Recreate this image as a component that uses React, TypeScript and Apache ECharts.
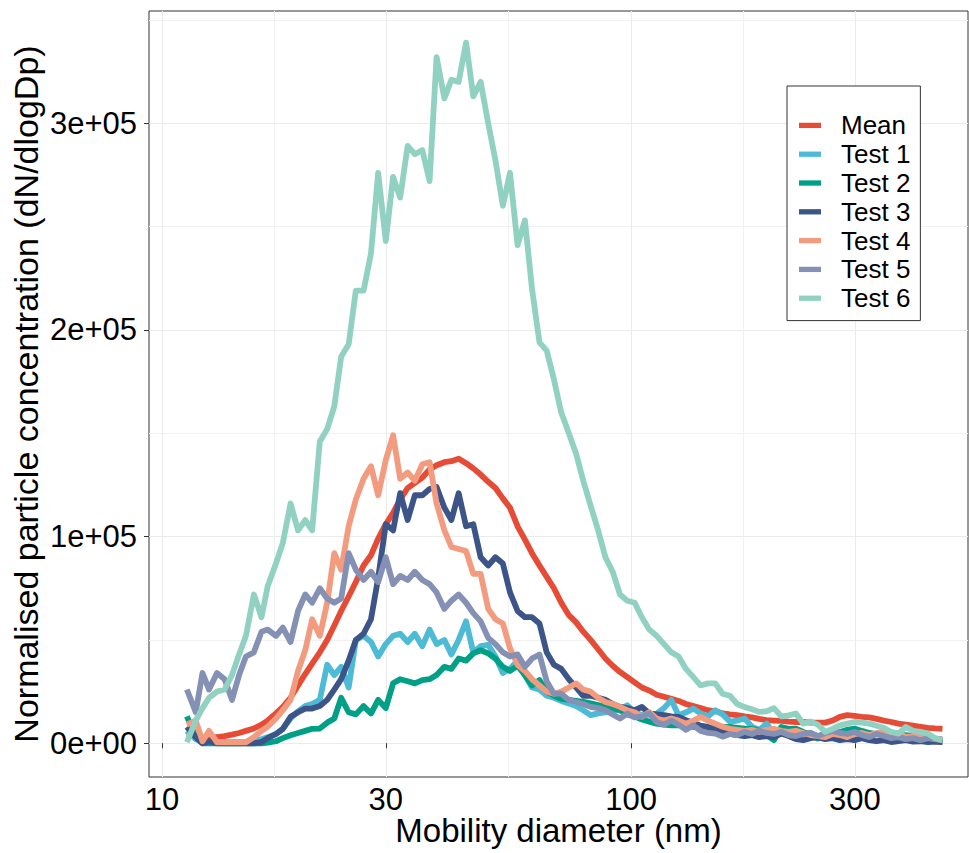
import React, { useEffect, useRef } from "react";
import * as echarts from "echarts";

// Mobility diameter channels (nm)
const diameters = [
  11.3, 11.8, 12.2, 12.6, 13.1, 13.6, 14.1, 14.6, 15.1, 15.7,
  16.3, 16.8, 17.5, 18.1, 18.8, 19.5, 20.2, 20.9, 21.7, 22.5,
  23.3, 24.1, 25.0, 25.9, 26.9, 27.9, 28.9, 30.0, 31.1, 32.2,
  33.4, 34.6, 35.9, 37.2, 38.5, 40.0, 41.4, 42.9, 44.5, 46.1,
  47.8, 49.6, 51.4, 53.3, 55.2, 57.3, 59.4, 61.5, 63.8, 66.1,
  68.5, 71.0, 73.7, 76.4, 79.1, 82.0, 85.1, 88.2, 91.4, 94.7,
  98.2, 101.8, 105.5, 109.4, 113.4, 117.6, 121.9, 126.3, 131.0, 135.8,
  140.7, 145.9, 151.2, 156.8, 162.5, 168.5, 174.7, 181.1, 187.7, 194.6,
  201.7, 209.1, 216.7, 224.7, 232.9, 241.4, 250.3, 259.5, 269.0, 278.8,
  289.0, 299.6, 310.6, 322.0, 333.8, 346.0, 358.7, 371.8, 385.4, 399.5,
  414.2, 429.4, 445.1, 461.4,
];

// Normalised concentration, in thousands of dN/dlogDp
const meanK = [
  4.5, 3.5, 3, 3, 3, 3.5, 4.2, 5, 6, 7.2,
  9, 11, 14.5, 17.6, 22, 28, 33.5, 38.5, 44, 50,
  57, 64, 71, 78, 86, 91, 99, 106, 111.5, 118,
  123.5, 126, 128.5, 132.5, 134.5, 136, 136.5, 137.7, 135.5, 133,
  130, 126.5, 123.5, 118.5, 114, 105, 98.5, 92, 86, 80.5,
  75, 68, 62, 58.5, 54, 50, 45.5, 41, 37.5, 34.5,
  32, 29.5, 27, 25.5, 23.5, 22.5, 21.5, 20.5, 19, 18,
  17, 16, 15.5, 14.5, 14, 13.6, 13, 12.5, 11.8, 11.2,
  11, 10.8, 10.5, 10.3, 10.3, 10, 10, 10, 11, 12.8,
  13.6, 13.3, 12.8, 12.5, 11.8, 11, 10.3, 9.5, 9, 8.5,
  8, 7.5, 7.2, 7,
];

const test1K = [
  6, 2, 0.5, 0.5, 0.5, 0.5, 0.5, 0.5, 0.5, 1,
  2, 3, 4.5, 7, 12, 15.5, 18, 19, 21, 38,
  33, 37, 27, 50, 52, 49, 42, 48, 52, 53,
  49, 53, 47, 55, 48, 50, 43, 50, 59, 44,
  47, 47.6, 42, 34, 36, 40, 33, 27, 26, 23,
  22, 20.5, 19.3, 18, 16, 13.6, 14.5, 15, 15.5, 16.5,
  18.4, 15, 13.6, 14, 14.4, 17, 21, 13.6, 15, 16.8,
  14.5, 13, 16, 14, 10.5, 11, 12, 8, 6.5, 9.5,
  4.7, 6, 5, 4.5, 4.7, 5, 3.5, 4, 5, 4,
  3.5, 4.5, 5, 4, 4.5, 3.5, 3, 3.5, 2.5, 3,
  2, 1.5, 1, 0.6,
];

const test2K = [
  13, 3, 0, 0, 0, 0, 0, 0, 0, 0,
  0, 0.3, 1, 2.5, 3.9, 5, 6, 7, 7.1, 10,
  12, 22, 15, 14, 18, 14.4, 21, 17, 29, 31,
  30, 29, 30.6, 31, 33, 37, 36, 41, 40, 43.5,
  45, 43.5, 41, 37, 35, 37.5, 33, 28, 30.6, 25,
  23, 21.5, 21, 20.5, 20, 19.3, 18.5, 17.6, 17, 16,
  14, 13, 11.5, 10.5, 9.5, 9, 8.7, 8.7, 8.5, 8,
  7.5, 7.1, 7.5, 7.9, 7.9, 7.5, 7.1, 7, 6, 4,
  1.5, 7.9, 7, 7.1, 5.5, 4, 2.3, 3.5, 4.5, 5.5,
  6.5, 7.1, 6, 5, 4.5, 5, 4, 4.5, 3.9, 3.5,
  3, 2.5, 2, 1.5,
];

const test3K = [
  8, 3, 0, 1, 0, 0, 0, 0, 0, 0,
  0.6, 2.5, 4.5, 7, 12.8, 15, 16.8, 16.8, 18, 21,
  26, 31, 40, 50, 53, 60, 80, 106, 103, 121,
  108, 120, 120, 123, 124, 114, 108, 121, 105, 106,
  90, 86, 90, 87, 73, 64, 61, 61, 58, 44,
  38, 36, 31, 27, 23, 23, 22, 21, 19, 17.6,
  17, 16, 17.6, 14.4, 14, 13.6, 13, 12.8, 11.2, 10,
  8.5, 7.9, 6.5, 5.5, 4.5, 4, 3.5, 3.9, 3, 3.5,
  3, 4.7, 3.5, 2, 1.5, 2.5, 3, 2, 2.5, 1.5,
  2, 1.5, 2.5, 1.5, 1, 1.5, 0.6, 1, 1.5, 0.8,
  1, 0.6, 0.8, 0.6,
];

const test4K = [
  9, 11, 1, 6, 0.5, 0.5, 0.5, 0.5, 0.5, 3,
  6, 8, 12, 16, 21, 35, 45, 60, 52, 68,
  92, 84, 105, 118, 128, 134, 120, 137, 149, 128,
  131, 127, 135, 136, 116, 103, 95, 94, 93, 82,
  82, 65, 60, 58, 46, 38, 35, 31, 28, 25,
  24, 25, 27, 29, 26, 25, 22, 20, 19, 17.6,
  16, 15, 12.8, 15, 12, 11, 12, 11, 9.5, 11,
  12.8, 11, 9.5, 8, 7, 6.5, 6, 6.5, 5.5, 6.5,
  7, 6, 5.5, 6, 5, 4, 3.5, 3, 4.5, 4,
  3, 4.5, 5, 4, 5, 5.5, 4.5, 5, 3, 3.5,
  4, 3, 2, 1.5,
];

const test5K = [
  26, 15, 34, 26, 34, 31, 21, 33, 42, 44,
  54, 55, 52, 56, 49, 64, 72, 68, 75, 70,
  68, 70, 92, 84, 79, 83, 78, 90, 77, 81,
  79, 83, 79, 77, 73, 65, 69, 72, 68, 63,
  59, 51, 48, 44, 42, 43, 37, 41, 43, 30,
  24, 24, 21, 20, 19, 17.6, 17, 16, 14, 12,
  14.4, 12.5, 13, 14.4, 10.3, 9, 11, 9, 6.5, 8.7,
  6, 5, 4.7, 3.2, 4.5, 4, 5.5, 4.5, 6, 5,
  4.5, 5.5, 4, 3.5, 4.5, 5, 3.5, 5, 6, 5,
  4.5, 5.5, 4, 3, 4.5, 3.5, 2.5, 3, 2, 2.5,
  1.5, 2.5, 2, 2,
];

const test6K = [
  0.5, 11, 17, 22, 25, 26, 33, 43, 52, 72,
  61, 76, 87, 97, 116, 103, 108, 103, 146, 152,
  163, 187, 193, 219, 219, 237, 276, 243, 274, 264,
  289, 285, 287, 272, 332, 312, 321, 320, 339, 313,
  320, 300, 282, 260, 276, 241, 253, 220, 194, 190,
  176, 160, 150, 140, 127, 115, 103, 90, 83, 72,
  69, 68, 61, 55, 52, 48, 44, 42, 36, 32,
  28, 29, 29, 24, 23, 19, 17.5, 16.5, 15.2, 15.5,
  17, 13, 13.5, 14.4, 9.5, 10.5, 9, 5.5, 7, 8.7,
  9.5, 10.3, 10, 9.5, 8.5, 7.5, 5.5, 4.7, 7.9, 6,
  5.5, 4.7, 2.5, 1.5,
];

const seriesNames = ["Mean", "Test 1", "Test 2", "Test 3", "Test 4", "Test 5", "Test 6"];
const seriesValuesK = [meanK, test1K, test2K, test3K, test4K, test5K, test6K];
const seriesColors = ["#E64B35", "#4DBBD5", "#00A087", "#3C5488", "#F39B7F", "#8491B4", "#91D1C2"];

const xTickValues = [10, 30, 100, 300];
const xMinorValues = [17.32, 54.77, 173.2];
const yTickValues = [0, 100000, 200000, 300000];
const yTickLabels = ["0e+00", "1e+05", "2e+05", "3e+05"];
const yMinorValues = [50000, 150000, 250000, 350000];

const FONT = "'Liberation Sans', Arial, sans-serif";
const THOUSAND = 1000;

const X_MIN = 9.382;
const X_MAX = 523.0;
const Y_MIN = -16304;
const Y_MAX = 354282;

function buildOption(): any {
  const series = seriesNames.map((name, s) => ({
    name,
    type: "line",
    data: diameters.map((d, i) => [d, seriesValuesK[s][i] * THOUSAND]),
    showSymbol: false,
    symbol: "none",
    xAxisIndex: 0,
    yAxisIndex: 0,
    lineStyle: { width: 5.8, color: seriesColors[s], cap: "butt", join: "round" },
    itemStyle: { color: seriesColors[s] },
    emphasis: { disabled: true },
    silent: true,
  }));

  return {
    animation: false,
    backgroundColor: "#ffffff",
    textStyle: { fontFamily: FONT },
    grid: {
      left: 149,
      width: 819,
      top: 11,
      height: 766,
      show: true,
      borderColor: "#333333",
      borderWidth: 1,
      backgroundColor: "transparent",
      containLabel: false,
      outerBoundsMode: "none",
    },
    legend: {
      data: seriesNames,
      orient: "vertical",
      left: 787,
      top: 86,
      padding: [25, 10, 8, 12],
      itemGap: 0,
      itemWidth: 22,
      itemHeight: 5.3,
      icon: "rect",
      selectedMode: false,
      backgroundColor: "#ffffff",
      borderColor: "#333333",
      borderWidth: 1,
      borderRadius: 0,
      textStyle: {
        fontSize: 26,
        color: "#000000",
        fontFamily: FONT,
        lineHeight: 28.8,
        padding: [0, 0, 0, 15],
      },
    },
    xAxis: [
      {
        type: "log",
        logBase: 10,
        min: X_MIN,
        max: X_MAX,
        position: "bottom",
        axisLine: { show: false },
        axisTick: {
          show: true,
          length: 5,
          customValues: xTickValues,
          lineStyle: { color: "#333333", width: 1 },
        },
        axisLabel: {
          customValues: xTickValues,
          margin: 7,
          fontSize: 31,
          color: "#000000",
          fontFamily: FONT,
          formatter: (v: number) => {
            const t = xTickValues.find((x) => Math.abs(x - v) / x < 1e-6);
            return String(t ?? v);
          },
        },
        splitLine: { show: true, lineStyle: { color: "#EBEBEB", width: 1.1 } },
        minorTick: { show: false },
        minorSplitLine: { show: false },
        name: "Mobility diameter (nm)",
        nameLocation: "middle",
        nameGap: 37,
        nameMoveOverlap: false,
        nameTextStyle: { fontSize: 33, lineHeight: 33, color: "#000000", fontFamily: FONT },
      },
      {
        type: "log",
        logBase: 10,
        min: X_MIN,
        max: X_MAX,
        position: "bottom",
        axisLine: { show: false },
        axisTick: { show: false, customValues: xMinorValues },
        axisLabel: { show: false, customValues: xMinorValues },
        splitLine: { show: true, lineStyle: { color: "#F1F1F1", width: 1 } },
      },
    ],
    yAxis: [
      {
        type: "value",
        min: Y_MIN,
        max: Y_MAX,
        position: "left",
        axisLine: { show: false },
        axisTick: {
          show: true,
          length: 5,
          customValues: yTickValues,
          lineStyle: { color: "#333333", width: 1 },
        },
        axisLabel: {
          customValues: yTickValues,
          margin: 12,
          fontSize: 31,
          color: "#000000",
          fontFamily: FONT,
          formatter: (v: number) => {
            const idx = yTickValues.findIndex((t) => Math.abs(t - v) < 1);
            return idx >= 0 ? yTickLabels[idx] : "";
          },
        },
        splitLine: { show: true, lineStyle: { color: "#EBEBEB", width: 1.1 } },
        name: "Normalised particle concentration (dN/dlogDp)",
        nameLocation: "middle",
        nameGap: 106,
        nameRotate: 90,
        nameMoveOverlap: false,
        nameTextStyle: { fontSize: 34, color: "#000000", fontFamily: FONT },
      },
      {
        type: "value",
        min: Y_MIN,
        max: Y_MAX,
        position: "left",
        axisLine: { show: false },
        axisTick: { show: false, customValues: yMinorValues },
        axisLabel: { show: false, customValues: yMinorValues },
        splitLine: { show: true, lineStyle: { color: "#F1F1F1", width: 1 } },
      },
    ],
    series,
  };
}

export default function App() {
  const ref = useRef<HTMLDivElement>(null);
  useEffect(() => {
    if (!ref.current) return;
    const chart = echarts.init(ref.current, null, { renderer: "svg" });
    chart.setOption(buildOption());
    return () => {
      chart.dispose();
    };
  }, []);
  return (
    <div
      ref={ref}
      style={{ position: "absolute", left: 0, top: 0, width: 969, height: 853 }}
    />
  );
}
